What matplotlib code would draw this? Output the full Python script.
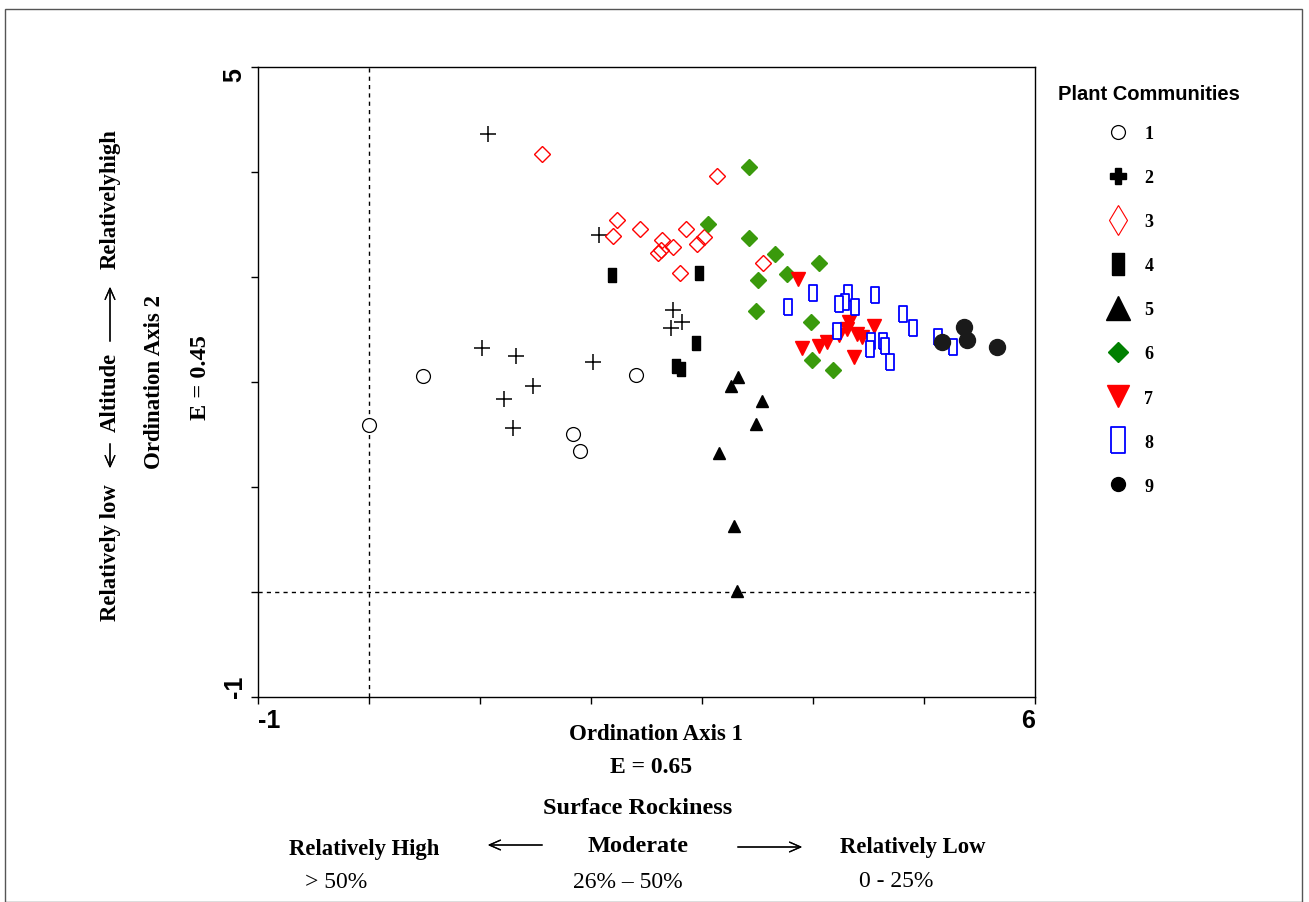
import numpy as np
import matplotlib
matplotlib.use("Agg")
import matplotlib.pyplot as plt
from matplotlib.lines import Line2D
from matplotlib.patches import Rectangle

SERIF = ["Liberation Serif", "DejaVu Serif"]
SANS = ["Liberation Sans", "DejaVu Sans"]

# ordination scores per plant community (axis 1, axis 2)
g1_x = [0.00, 0.49, 2.40, 1.84, 1.90]
g1_y = [1.59, 2.06, 2.07, 1.50, 1.34]
g2_x = [1.07, 2.07, 1.02, 1.32, 1.48, 1.22, 1.30, 2.02, 2.74, 2.82, 2.72]
g2_y = [4.36, 3.40, 2.32, 2.25, 1.96, 1.84, 1.56, 2.19, 2.68, 2.57, 2.51]
g3_x = [1.56, 3.13, 2.23, 2.20, 2.44, 2.64, 2.74, 2.60, 2.63, 2.85, 2.95, 3.02, 2.80, 3.55]
g3_y = [4.17, 3.96, 3.54, 3.39, 3.46, 3.35, 3.28, 3.23, 3.26, 3.46, 3.31, 3.38, 3.04, 3.13]
g4_x = [2.19, 2.97, 2.94, 2.76, 2.81]
g4_y = [3.02, 3.04, 2.37, 2.15, 2.12]
g5_x = [3.32, 3.26, 3.54, 3.48, 3.15, 3.29, 3.31]
g5_y = [2.05, 1.96, 1.82, 1.60, 1.32, 0.63, 0.01]
g6_x = [3.42, 3.05, 3.42, 3.66, 4.05, 3.76, 3.50, 3.48, 3.98, 3.99, 4.18]
g6_y = [4.05, 3.50, 3.37, 3.22, 3.13, 3.03, 2.97, 2.67, 2.57, 2.21, 2.11]
g7_x = [3.86, 4.32, 4.30, 4.39, 4.44, 4.55, 4.12, 4.05, 3.90, 4.37, 4.23]
g7_y = [2.98, 2.57, 2.50, 2.46, 2.43, 2.53, 2.38, 2.34, 2.32, 2.24, 2.45]
g8_x = [4.00, 3.77, 4.31, 4.29, 4.23, 4.38, 4.56, 4.81, 4.90, 5.12, 5.26,
        4.21, 4.52, 4.51, 4.63, 4.65, 4.69]
g8_y = [2.85, 2.71, 2.85, 2.76, 2.74, 2.71, 2.83, 2.65, 2.51, 2.43, 2.33,
        2.48, 2.39, 2.31, 2.39, 2.34, 2.19]
g9_x = [5.36, 5.38, 5.16, 5.65]
g9_y = [2.52, 2.40, 2.38, 2.33]

community_labels = ["1", "2", "3", "4", "5", "6", "7", "8", "9"]
x_ticks = [-1, 0, 1, 2, 3, 4, 5, 6]
x_ticklabels = ["-1", "", "", "", "", "", "", "6"]
y_ticks = [-1, 0, 1, 2, 3, 4, 5]
y_ticklabels = ["-1", "", "", "", "", "", "5"]

RECT = [(-0.28, -0.5), (0.28, -0.5), (0.28, 0.5), (-0.28, 0.5), (-0.28, -0.5)]
RECT_OPEN = [(-0.28, -0.5), (0.28, -0.5), (0.28, 0.5), (-0.28, 0.5), (-0.28, -0.5)]

fig = plt.figure(figsize=(13.09, 9.03), dpi=100)
ax = fig.add_axes([0.197, 0.227, 0.594, 0.698])

ax.axvline(0, color="black", lw=1, ls=(0, (3, 3)), zorder=1)
ax.axhline(0, color="black", lw=1, ls=(0, (3, 3)), zorder=1)

ax.plot(g1_x, g1_y, ls="none", marker="o", ms=10, mfc="white", mec="black", mew=0.9)
ax.plot(g2_x, g2_y, ls="none", marker="+", ms=12, color="black", mew=1.1)
ax.plot(g3_x, g3_y, ls="none", marker="D", ms=8.3, mfc="none", mec="red", mew=1)
ax.plot(g4_x, g4_y, ls="none", marker=RECT, ms=10, color="black")
ax.plot(g5_x, g5_y, ls="none", marker="^", ms=9, color="black")
ax.plot(g6_x, g6_y, ls="none", marker="D", ms=8.5, color="#3a9a0c")
ax.plot(g7_x, g7_y, ls="none", marker="v", ms=10.5, color="red")
ax.plot(g8_x, g8_y, ls="none", marker=RECT_OPEN, ms=11, mfc="white", mec="blue", mew=1.3)
ax.plot(g9_x, g9_y, ls="none", marker="o", ms=11.5, color="#1a1a1a")

ax.set_xlim(-1, 6)
ax.set_ylim(-1, 5)
ax.set_xticks(x_ticks)
ax.set_xticklabels(x_ticklabels, fontsize=18, fontweight="bold", family=SANS)
ax.set_yticks(y_ticks)
ax.set_yticklabels(y_ticklabels, fontsize=18, fontweight="bold", family=SANS, rotation=90)
ax.tick_params(direction="out", length=5, width=1, pad=3)
xl = ax.get_xticklabels()
xl[0].set_ha("left")
xl[-1].set_ha("right")
yl = ax.get_yticklabels()
yl[0].set_va("bottom")
yl[-1].set_va("top")
for s in ax.spines.values():
    s.set_linewidth(1)

# axis titles in figure coordinates
W, H = 1309.0, 903.0


def ftxt(px, py, s, **kw):
    kw.setdefault("family", SERIF)
    kw.setdefault("fontsize", 17)
    kw.setdefault("fontweight", "bold")
    fig.text(px / W, 1 - py / H, s, ha="center", va="center", **kw)


def farrow(x0, y0, x1, y1):
    fig.add_artist(plt.annotate("", xy=(x1 / W, 1 - y1 / H), xytext=(x0 / W, 1 - y0 / H),
                                xycoords="figure fraction", textcoords="figure fraction",
                                arrowprops=dict(arrowstyle="->,head_length=0.8,head_width=0.35",
                                                lw=0.9, color="black")))


# y axis description
ftxt(110, 553, "Relatively low", rotation=90, fontsize=16.3)
farrow(110, 442, 110, 472)
ftxt(110, 392, "Altitude", rotation=90, fontsize=16.3)
farrow(110, 345, 110, 285)
ftxt(110, 199, "Relativelyhigh", rotation=90, fontsize=16.3)
ftxt(155, 382, "Ordination Axis 2", rotation=90, fontsize=16.5)
ftxt(200, 378, "E = 0.45", rotation=90, fontsize=17.5)

# x axis description
ftxt(656, 735, "Ordination Axis 1", fontsize=16.5)
ftxt(651, 768, "E = 0.65", fontsize=17)
ftxt(638, 808, "Surface Rockiness", fontsize=17.5)
ftxt(364, 850, "Relatively High", fontsize=16.3)
farrow(545, 846, 485, 846)
ftxt(638, 847, "Moderate", fontsize=17.5)
farrow(735, 848, 805, 848)
ftxt(913, 848, "Relatively Low", fontsize=16.3)
ftxt(336, 883, "> 50%", fontweight="normal")
ftxt(628, 883, "26% \u2013 50%", fontweight="normal")
ftxt(896, 882, "0 - 25%", fontweight="normal")

# legend
fig.text(1058 / W, 1 - 95 / H, "Plant Communities", family=SANS, fontsize=14.5,
         fontweight="bold", ha="left", va="center")
handles = [
    Line2D([], [], ls="none", marker="o", ms=10, mfc="white", mec="black", mew=0.9),
    Line2D([], [], ls="none", marker="P", ms=11, color="black"),
    Line2D([], [], ls="none", marker="d", ms=15, mfc="none", mec="red", mew=0.8),
    Line2D([], [], ls="none", marker=RECT, ms=16, color="black"),
    Line2D([], [], ls="none", marker="^", ms=17, color="black"),
    Line2D([], [], ls="none", marker="D", ms=10, color="green"),
    Line2D([], [], ls="none", marker="v", ms=16, color="red"),
    Line2D([], [], ls="none", marker=RECT_OPEN, ms=19, mfc="white", mec="blue", mew=1.3),
    Line2D([], [], ls="none", marker="o", ms=10, color="black"),
]
fig.legend(handles, community_labels, loc="upper left",
           bbox_to_anchor=(1091 / W, 1 - 117 / H), frameon=False,
           prop=dict(family=SERIF, weight="bold", size=13),
           labelspacing=1.5, handlelength=2.0, handletextpad=0.45, borderpad=0)

# outer frame
fig.add_artist(Rectangle((5 / W, 0), (1302 - 5) / W, 1 - 10 / H,
                         transform=fig.transFigure, fill=False, ec="#555555", lw=1))

fig.savefig("out.png", dpi=100)
